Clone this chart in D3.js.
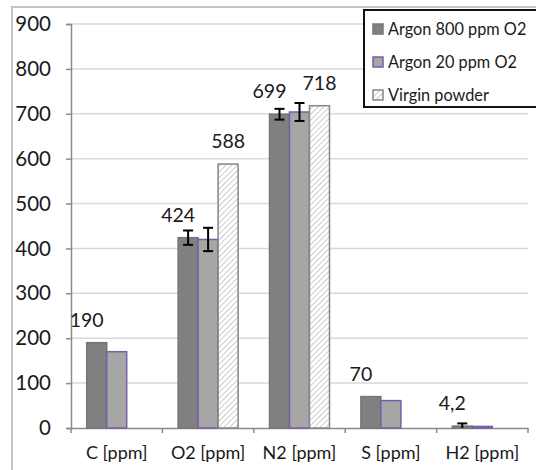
<!DOCTYPE html>
<html><head><meta charset="utf-8">
<script src="https://cdn.jsdelivr.net/npm/d3@7/dist/d3.min.js"></script>
<style>
html,body{margin:0;padding:0;background:#fff;}
svg{display:block;font-family:Lato,"Open Sans",sans-serif;}
</style></head>
<body>
<svg id="chart" width="536" height="470"></svg>
<script>
const categories = ["C [ppm]", "O2 [ppm]", "N2 [ppm]", "S [ppm]", "H2 [ppm]"];
const seriesNames = ["Argon 800 ppm O2", "Argon 20 ppm O2", "Virgin powder"];
const argon800 = [190, 424, 699, 70, 4.2];
const argon20 = [170, 420, 704, 61, 3.5];
const virgin = [null, 588, 718, null, null];
const argon800Err = [null, 16, 12, null, 6];
const argon20Err = [null, 26, 20, null, null];
const argon800Labels = [true, true, true, true, true];
const virginLabels = [false, true, true, false, false];
const yTicks = [0, 100, 200, 300, 400, 500, 600, 700, 800, 900];

(function(){
const svg = d3.select("#chart");
const defs = svg.append("defs");
const pat = defs.append("pattern").attr("id","hatch").attr("patternUnits","userSpaceOnUse")
  .attr("width",4).attr("height",4).attr("patternTransform","rotate(45)");
pat.append("rect").attr("width",4).attr("height",4).attr("fill","#fff");
pat.append("line").attr("x1",0).attr("y1",0).attr("x2",0).attr("y2",4).attr("stroke","#9a9a9a").attr("stroke-width",1);

svg.append("rect").attr("x",12).attr("y",7).attr("width",540).attr("height",480)
  .attr("fill","none").attr("stroke","#c4c4c4").attr("stroke-width",2);

const pLeft = 71, pRight = 528, pTop = 24, pBottom = 428;
const y = d3.scaleLinear().domain([0, 900]).range([pBottom, pTop]);
const x0 = d3.scaleBand().domain(categories).range([pLeft, pRight]).paddingInner(0).paddingOuter(0);
const groupW = 60;
const x1 = d3.scaleBand().domain(seriesNames).range([(x0.bandwidth()-groupW)/2, (x0.bandwidth()+groupW)/2]);

svg.append("g").selectAll("line").data(yTicks.filter(d=>d>0)).join("line")
  .attr("x1",pLeft).attr("x2",pRight).attr("y1",d=>y(d)).attr("y2",d=>y(d))
  .attr("stroke","#d9d9d9").attr("stroke-width",1.5);

const yAxis = svg.append("g").attr("transform",`translate(${pLeft},0)`)
  .call(d3.axisLeft(y).tickValues(yTicks).tickSize(5).tickPadding(15).tickFormat(d3.format("d")));
yAxis.select(".domain").attr("stroke","#8a8a8a").attr("stroke-width",1.5);
yAxis.selectAll(".tick line").attr("stroke","#8a8a8a").attr("stroke-width",1.5);
yAxis.selectAll("text").attr("font-size",20.5).attr("fill","#1a1a1a").attr("font-family","Lato,sans-serif");

const xAxis = svg.append("g").attr("transform",`translate(0,${pBottom})`)
  .call(d3.axisBottom(x0).tickSize(0).tickPadding(18));
xAxis.select(".domain").attr("stroke","#8a8a8a").attr("stroke-width",1.5);
xAxis.selectAll("text").attr("font-size",18).attr("fill","#1a1a1a").attr("font-family","Lato,sans-serif");
const bounds = categories.map(c=>x0(c)).concat([x0(categories[categories.length-1])+x0.bandwidth()]);
svg.append("g").selectAll("line").data(bounds).join("line")
  .attr("x1",d=>d).attr("x2",d=>d).attr("y1",pBottom).attr("y2",pBottom+5)
  .attr("stroke","#8a8a8a").attr("stroke-width",1.5);

const styles = [
  {fill:"#808080", stroke:"#767676"},
  {fill:"#a6a6a6", stroke:"#7a5ca8"},
  {fill:"url(#hatch)", stroke:"#858585"}
];
const seriesData = [argon800, argon20, virgin];
const errData = [argon800Err, argon20Err, null];

seriesData.forEach((vals, si) => {
  const g = svg.append("g");
  const rows = categories.map((c,i)=>({c, v: vals[i]})).filter(d=>d.v!=null);
  g.selectAll("rect").data(rows).join("rect")
    .attr("x", d=>x0(d.c)+x1(seriesNames[si]))
    .attr("y", d=>y(d.v))
    .attr("width", x1.bandwidth())
    .attr("height", d=>y(0)-y(d.v))
    .attr("fill", styles[si].fill)
    .attr("stroke", styles[si].stroke)
    .attr("stroke-width", 1.5);
});

errData.forEach((errs, si) => {
  if (!errs) return;
  const rows = categories.map((c,i)=>({c, v: seriesData[si][i], e: errs[i]})).filter(d=>d.e!=null);
  const g = svg.append("g").attr("stroke","#000").attr("stroke-width",2);
  rows.forEach(d => {
    const cx = x0(d.c)+x1(seriesNames[si])+x1.bandwidth()/2;
    const lo = Math.max(0, d.v-d.e), hi = d.v+d.e;
    g.append("line").attr("x1",cx).attr("x2",cx).attr("y1",y(lo)).attr("y2",y(hi));
    g.append("line").attr("x1",cx-5).attr("x2",cx+5).attr("y1",y(hi)).attr("y2",y(hi));
    if (d.v-d.e > 0) g.append("line").attr("x1",cx-5).attr("x2",cx+5).attr("y1",y(lo)).attr("y2",y(lo));
  });
});

const fmt = v => String(v).replace(".", ",");
const lab = svg.append("g").attr("font-size",19.5).attr("fill","#1a1a1a").attr("text-anchor","middle");
categories.forEach((c,i) => {
  if (argon800Labels[i]) {
    lab.append("text").attr("x", x0(c)+x1(seriesNames[0])).attr("y", y(argon800[i])-16).text(fmt(argon800[i]));
  }
  if (virginLabels[i]) {
    lab.append("text").attr("x", x0(c)+x1(seriesNames[2])+x1.bandwidth()/2).attr("y", y(virgin[i])-16).text(fmt(virgin[i]));
  }
});

const lg = svg.append("g");
lg.append("rect").attr("x",364).attr("y",10).attr("width",185).attr("height",97)
  .attr("fill","#fff").attr("stroke","#111").attr("stroke-width",2);
seriesNames.forEach((n,i) => {
  const yy = 24 + i*33;
  lg.append("rect").attr("x",373).attr("y",yy).attr("width",10).attr("height",10)
    .attr("fill",styles[i].fill).attr("stroke",styles[i].stroke).attr("stroke-width",1.5);
  lg.append("text").attr("x",388).attr("y",yy+11).attr("font-size",16.3).attr("fill","#1a1a1a").text(n);
});
})();
</script>
</body></html>
